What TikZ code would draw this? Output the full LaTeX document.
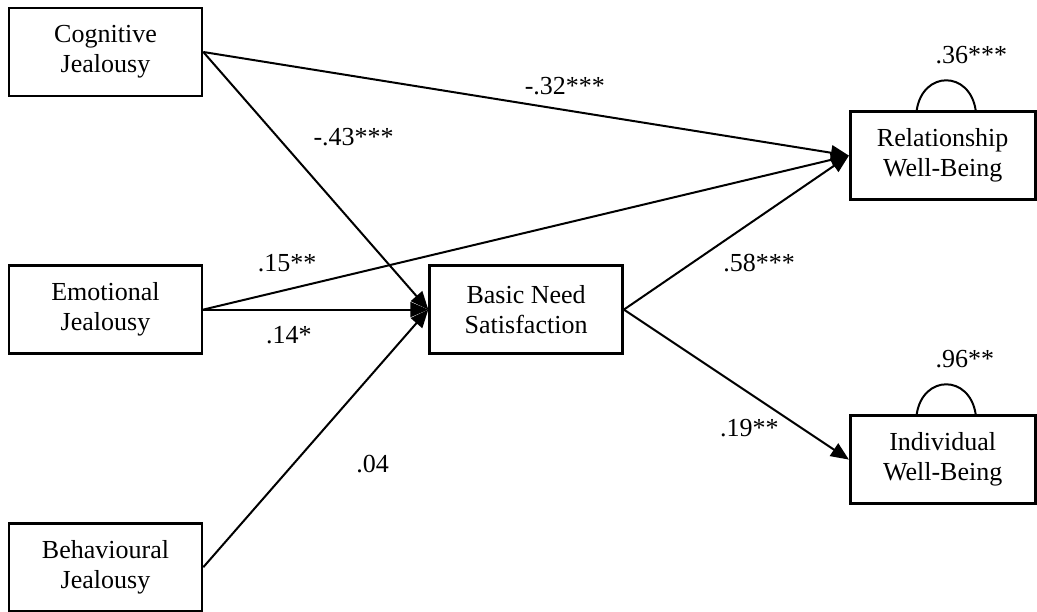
\documentclass[tikz,border=0pt]{standalone}
\usepackage{fontspec}
\setmainfont{Liberation Serif}
\usetikzlibrary{arrows.meta, positioning}
\tikzset{
    var/.style={draw, line width=2.6pt, minimum width=193pt, minimum height=88pt, align=center, inner sep=0pt},
    outcome/.style={var, minimum width=185pt},
    coef/.style={inner sep=0pt},
    >={Triangle[length=18pt,width=15pt]}
}

\begin{document}
\begin{tikzpicture}[line width=2pt, font=\fontsize{26}{30}\selectfont]
        \useasboundingbox (0,0) rectangle (1037pt,-612pt);
        \node[var] (cog) at (105.5pt,-52pt)    {Cognitive\\Jealousy};
        \node[var] (emo) [below=167pt of cog]  {Emotional\\Jealousy};
        \node[var] (beh) [below=167pt of emo]  {Behavioural\\Jealousy};
        \node[var] (need) [right=225pt of emo] {Basic Need\\Satisfaction};
        \node[outcome] (rel) [right=225pt of need, yshift=154pt]  {Relationship\\Well-Being};
        \node[outcome] (ind) [right=225pt of need, yshift=-150pt] {Individual\\Well-Being};

        \path[->]   (cog.east) edge node[coef, pos=.56, above=14pt] (cr) {-.32***} (rel.west)
                    (cog.east) edge node[coef, pos=.33, right=35pt] (cn) {-.43***} (need.west)
                    (emo.east) edge node[coef, pos=.13, above=17pt] (er) {.15**}   (rel.west)
                    (emo.east) edge node[coef, pos=.38, below=16pt] (en) {.14*}    (need.west)
                    (beh.east) edge node[coef, pos=.4, right=62pt]  (bn) {.04}     (need.west)
                    (need.east) edge node[coef, pos=.3, right=31pt] (nr) {.58***}  (rel.west)
                    (need.east) edge node[coef, pos=.79, left=22pt] (ni) {.19**}   (ind.west);

        % residual variances
        \draw ([xshift=-26pt]rel.north) .. controls +(6pt,40pt) and +(-6pt,40pt) .. ([xshift=33pt]rel.north);
        \node[coef, anchor=west] (rv) at ([xshift=-8pt, yshift=55pt]rel.north) {.36***};
        \draw ([xshift=-26pt]ind.north) .. controls +(6pt,40pt) and +(-6pt,40pt) .. ([xshift=33pt]ind.north);
        \node[coef, anchor=west] (iv) at ([xshift=-8pt, yshift=55pt]ind.north) {.96**};
\end{tikzpicture}
\end{document}
